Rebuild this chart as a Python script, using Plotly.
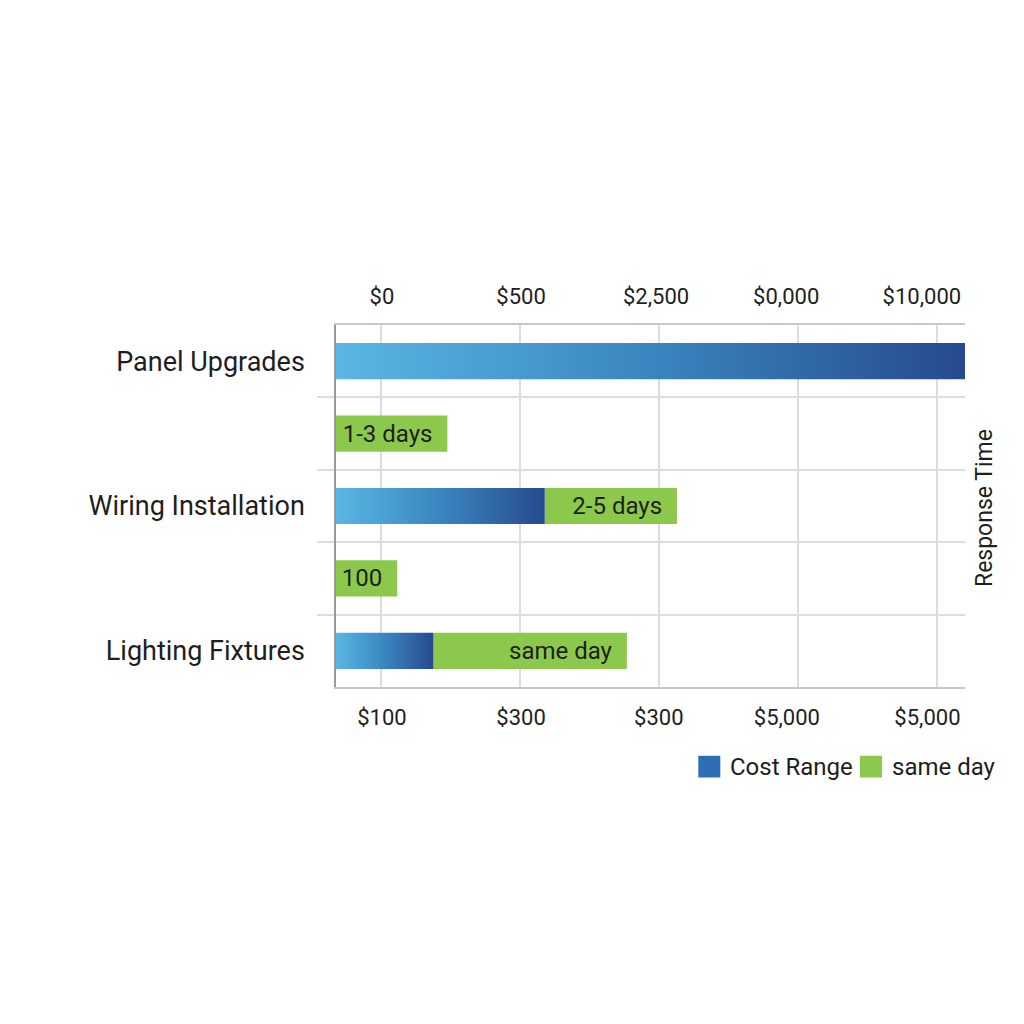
import plotly.graph_objects as go

# rows from top to bottom
row_labels = ["Panel Upgrades", "", "Wiring Installation", "", "Lighting Fixtures"]
row_pos = [0, 1, 2, 3, 4]

# end of the blue "cost" bar per row (None = no bar)
cost_end = [5.2, None, 2.18, None, 1.38]
# end of the green "time" bar per row, it starts where the cost bar ends
time_end = [None, 1.48, 3.13, 1.12, 2.77]
time_text = ["", "1-3 days", "2-5 days", "100", "same day"]

# vertical grid lines, and where the (slightly off) tick labels sit
grid_vals = [1, 2, 3, 4, 5]
top_pos = [1.01, 2.01, 2.98, 3.915, 4.89]
top_ticks = ["$0", "$500", "$2,500", "$0,000", "$10,000"]
bottom_pos = [1.01, 2.01, 3.0, 3.92, 4.93]
bottom_ticks = ["$100", "$300", "$300", "$5,000", "$5,000"]

legend_names = ["Cost Range", "same day"]
legend_colors = ["#2f6db5", "#8cc84b"]

X_START = 0.68
X_END = 5.2
BAR_W = 0.5
FONT = "Roboto"
GRID = "#dcdcdc"
INK = "#1e1e1e"
PAD = "\u00a0\u00a0"

fig = go.Figure()

# blue bars, drawn as filled shapes so they can carry a left-to-right gradient
for y, end in zip(row_pos, cost_end):
	if end is None:
		continue
	fig.add_trace(go.Scatter(
		x=[X_START, end, end, X_START, X_START],
		y=[y - BAR_W / 2, y - BAR_W / 2, y + BAR_W / 2, y + BAR_W / 2, y - BAR_W / 2],
		mode="lines",
		line=dict(width=0),
		fill="toself",
		fillgradient=dict(type="horizontal",
						  colorscale=[[0, "#5ab6e4"], [0.5, "#3a86c0"], [1, "#27498f"]]),
		hoverinfo="skip",
		showlegend=False,
	))

# green bars
t_base, t_len, t_y, t_txt = [], [], [], []
for y, c, t, s in zip(row_pos, cost_end, time_end, time_text):
	if t is None:
		continue
	b = c if c is not None else X_START
	t_base.append(b)
	t_len.append(t - b)
	t_y.append(y)
	t_txt.append(s + PAD)

fig.add_trace(go.Bar(
	y=t_y, x=t_len, base=t_base, orientation="h",
	width=BAR_W,
	marker=dict(color="#8cc84b", line=dict(width=0)),
	text=t_txt, textposition="inside", insidetextanchor="end",
	textfont=dict(family=FONT, size=24, color=INK),
	showlegend=False,
))

# invisible trace that carries the top axis
fig.add_trace(go.Scatter(x=[X_START, X_END], y=[None, None], xaxis="x2",
						 mode="markers", showlegend=False, hoverinfo="skip"))

fig.update_layout(
	width=1024, height=1024,
	paper_bgcolor="white", plot_bgcolor="white",
	margin=dict(l=328, r=67, t=317, b=345),
	font=dict(family=FONT, color=INK),
	showlegend=False,
	xaxis=dict(
		range=[X_START, X_END], tickmode="array", tickvals=bottom_pos, ticktext=bottom_ticks,
		showgrid=False, zeroline=False,
		showline=True, linecolor="#c8c8c8", linewidth=2,
		ticks="", ticklabelstandoff=10,
		tickfont=dict(size=22, color=INK),
		minor=dict(tickvals=grid_vals, showgrid=True, gridcolor=GRID, gridwidth=2, ticks=""),
	),
	xaxis2=dict(
		range=[X_START, X_END], overlaying="x", side="top", anchor="y",
		tickmode="array", tickvals=top_pos, ticktext=top_ticks,
		showgrid=False, zeroline=False, showline=True, linecolor="#c8c8c8", linewidth=2,
		ticks="", ticklabelstandoff=10,
		tickfont=dict(size=22, color=INK),
	),
	yaxis=dict(
		range=[4.5, -0.5], tickmode="array", tickvals=row_pos, ticktext=row_labels,
		showgrid=False, zeroline=False,
		showline=True, linecolor="#9a9a9a", linewidth=1.5,
		ticks="", ticklabelstandoff=24,
		tickfont=dict(size=27, color=INK),
		minor=dict(tickvals=[0.5, 1.5, 2.5, 3.5], showgrid=True, gridcolor=GRID, gridwidth=2,
				   ticks="outside", ticklen=17, tickcolor=GRID, tickwidth=2),
	),
)

# right side label
fig.add_annotation(text="Response Time", xref="paper", yref="paper", x=1.03, y=0.494,
				   textangle=-90, showarrow=False, xanchor="center", yanchor="middle",
				   font=dict(size=23, color=INK))

# legend below the plot, bottom right
legend_x = [0.576, 0.833]
for name, color, lx in zip(legend_names, legend_colors, legend_x):
	fig.add_shape(type="rect", xref="paper", yref="paper",
				  x0=lx, x1=lx + 0.035, y0=-0.19, y1=-0.25,
				  fillcolor=color, line=dict(width=0))
	fig.add_annotation(text=name, xref="paper", yref="paper", x=lx + 0.047, y=-0.22,
					   xanchor="left", yanchor="middle", showarrow=False,
					   font=dict(size=24, color=INK))

fig.write_html("out.html")
